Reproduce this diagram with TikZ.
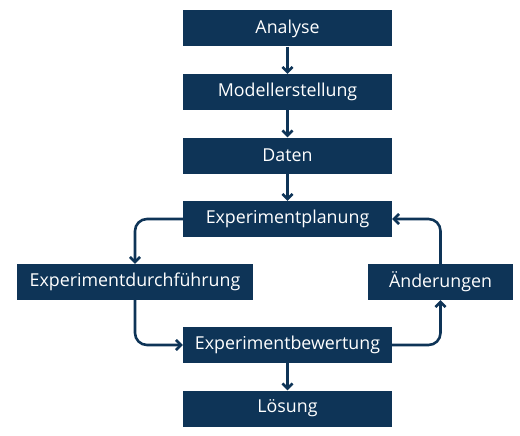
\documentclass[tikz,border=0pt]{standalone}
\usepackage{fontspec}
\setmainfont{Open Sans}
\usetikzlibrary{positioning, arrows.meta}
\definecolor{navy}{RGB}{14,52,87}

\begin{document}
\begin{tikzpicture}[
    x=1pt, y=1pt,
    >={Straight Barb[length=5pt, width=10pt]},
    node distance=63.5pt,
    on grid,
    % Stile per i blocchi
    block/.style={rectangle, fill=navy, text=white, minimum height=36pt, font=\fontsize{17.8}{20}\selectfont, inner sep=0pt},
    wide/.style={block, minimum width=209pt},
    flow/.style={->, draw=navy, line width=2.6pt, rounded corners=12pt}
]
    \useasboundingbox (0,0) rectangle (520,-436);

    % Blocchi principali
    \node[wide] (ana) at (287.5,-28.5) {Analyse};
    \node[wide] (mod) [below=of ana] {Modellerstellung};
    \node[wide] (dat) [below=of mod] {Daten};
    \node[wide] (plan) [below=of dat] {Experimentplanung};
    \node[block, minimum width=236pt] (durch) [below left=63pt and 152.5pt of plan] {Experimentdurchführung};
    \node[block, minimum width=145pt] (aend) [below right=63pt and 153pt of plan] {Änderungen};
    \node[wide] (bew) [below=126pt of plan] {Experimentbewertung};
    \node[wide] (loes) [below=of bew] {Lösung};

    % Frecce verticali
    \draw[flow] (ana) -- (mod);
    \draw[flow] (mod) -- (dat);
    \draw[flow] (dat) -- (plan);
    \draw[flow] (bew) -- (loes);

    % Ciclo
    \draw[flow] (plan.west) -| (durch.north);
    \draw[flow] (durch.south) |- (bew.west);
    \draw[flow] (bew.east) -| (aend.south);
    \draw[flow] (aend.north) |- (plan.east);

\end{tikzpicture}
\end{document}
